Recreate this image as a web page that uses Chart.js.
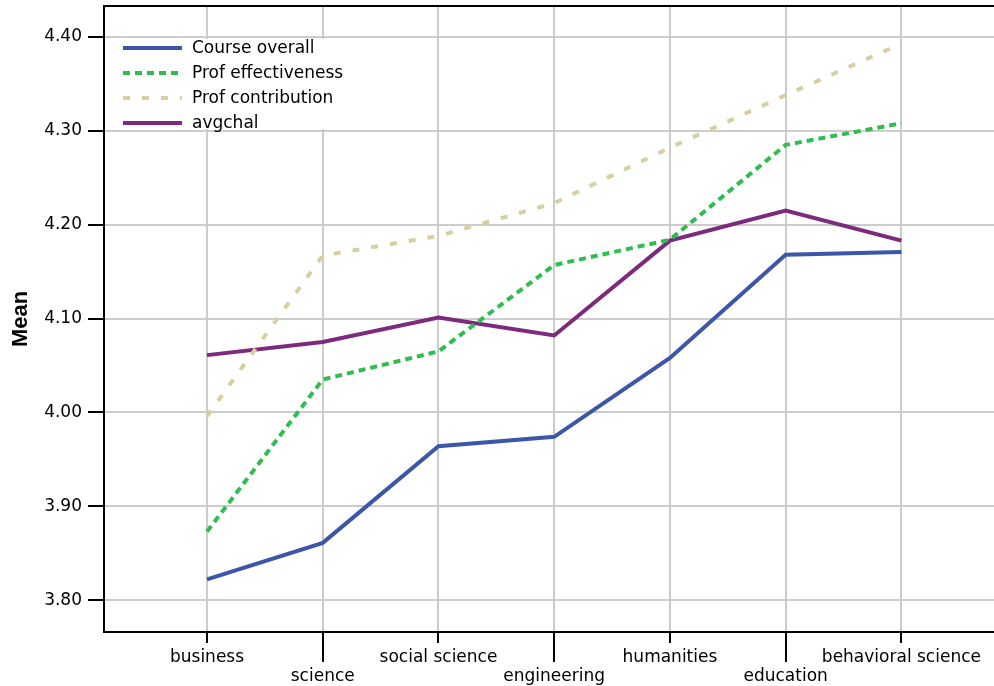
<!DOCTYPE html>
<html>
<head>
<meta charset="utf-8">
<script src="https://cdn.jsdelivr.net/npm/chart.js@4.4.1/dist/chart.umd.min.js"></script>
<style>
    html, body { margin: 0; padding: 0; background: #fff; }
    #wrap { width: 994px; height: 686px; }
</style>
</head>
<body>
<div id="wrap"><canvas id="meanChart"></canvas></div>
<script>
    const fields = ['business', 'science', 'social science', 'engineering', 'humanities', 'education', 'behavioral science'];
    const yTicks = [3.8, 3.9, 4.0, 4.1, 4.2, 4.3, 4.4];

    const courseOverall = [3.822, 3.861, 3.964, 3.974, 4.058, 4.168, 4.171];
    const profEffectiveness = [3.873, 4.035, 4.065, 4.157, 4.184, 4.285, 4.308];
    const profContribution = [3.996, 4.167, 4.188, 4.223, 4.282, 4.338, 4.393];
    const avgchal = [4.061, 4.075, 4.101, 4.082, 4.183, 4.215, 4.183];

    const labelFont = '"DejaVu Sans", Verdana, sans-serif';

    function toPoints(values) {
        return values.map((v, i) => ({ x: i, y: v }));
    }

    // box border on top, staggered x tick marks and the legend inside the plot
    const framePlugin = {
        id: 'frame',
        beforeDatasetsDraw(chart) {
            const ctx = chart.ctx;
            const area = chart.chartArea;
            ctx.save();
            ctx.fillStyle = '#ffffff';
            ctx.fillRect(area.left + 8, 39, 258, 90);
            ctx.font = '17px ' + labelFont;
            ctx.textBaseline = 'middle';
            ctx.fillStyle = '#000';
            chart.data.datasets.forEach((ds, i) => {
                const y = 48 + i * 25;
                ctx.strokeStyle = ds.borderColor;
                ctx.lineWidth = 4;
                ctx.setLineDash(ds.borderDash || []);
                ctx.beginPath();
                ctx.moveTo(123, y);
                ctx.lineTo(182, y);
                ctx.stroke();
                ctx.setLineDash([]);
                ctx.fillText(ds.label, 192, y + 1);
            });
            ctx.restore();
        },
        afterDraw(chart) {
            const ctx = chart.ctx;
            const area = chart.chartArea;
            const xs = chart.scales.x;
            ctx.save();
            ctx.strokeStyle = '#000';
            ctx.lineWidth = 2;
            ctx.beginPath();
            ctx.moveTo(area.left - 1, area.top);
            ctx.lineTo(area.right, area.top);
            ctx.stroke();
            fields.forEach((f, i) => {
                const x = Math.round(xs.getPixelForValue(i));
                ctx.beginPath();
                ctx.moveTo(x, area.bottom);
                ctx.lineTo(x, area.bottom + (i % 2 ? 30 : 11));
                ctx.stroke();
            });
            ctx.restore();
        }
    };

    const ctxMean = document.getElementById('meanChart').getContext('2d');
    const meanChart = new Chart(ctxMean, {
        type: 'line',
        data: {
            datasets: [{
                label: 'Course overall',
                data: toPoints(courseOverall),
                borderColor: '#3d56a8',
                borderWidth: 4
            }, {
                label: 'Prof effectiveness',
                data: toPoints(profEffectiveness),
                borderColor: '#2fbd4f',
                borderWidth: 4,
                borderDash: [7, 5]
            }, {
                label: 'Prof contribution',
                data: toPoints(profContribution),
                borderColor: '#d6cf9e',
                borderWidth: 4,
                borderDash: [7, 12]
            }, {
                label: 'avgchal',
                data: toPoints(avgchal),
                borderColor: '#7b2a7d',
                borderWidth: 4
            }]
        },
        options: {
            responsive: true,
            maintainAspectRatio: false,
            animation: false,
            layout: { padding: { top: 6, right: 0, left: 0, bottom: 0 } },
            elements: {
                point: { radius: 0, hoverRadius: 0 },
                line: { tension: 0, fill: false }
            },
            plugins: {
                legend: { display: false },
                tooltip: { enabled: false }
            },
            scales: {
                x: {
                    type: 'linear',
                    min: -0.89,
                    max: 6.8,
                    afterBuildTicks: (scale) => {
                        scale.ticks = fields.map((f, i) => ({ value: i }));
                    },
                    afterFit: (scale) => {
                        scale.height = 54;
                        scale.paddingLeft = 0;
                        scale.paddingRight = 0;
                    },
                    border: { color: '#000', width: 2 },
                    grid: {
                        color: '#cccccc',
                        lineWidth: 2,
                        drawTicks: true,
                        tickLength: 8,
                        tickColor: 'rgba(0,0,0,0)'
                    },
                    ticks: {
                        autoSkip: false,
                        maxRotation: 0,
                        padding: 8,
                        color: '#000',
                        font: { family: labelFont, size: 17, lineHeight: 1.12 },
                        callback: (value) => {
                            const i = Math.round(value);
                            return i % 2 ? ['', fields[i]] : fields[i];
                        }
                    }
                },
                y: {
                    min: 3.766,
                    max: 4.433,
                    afterBuildTicks: (scale) => {
                        scale.ticks = yTicks.map((v) => ({ value: v }));
                    },
                    afterFit: (scale) => {
                        scale.width = 104;
                        scale.paddingTop = 0;
                        scale.paddingBottom = 0;
                    },
                    border: { color: '#000', width: 2 },
                    grid: {
                        color: '#cccccc',
                        lineWidth: 2,
                        tickLength: 16,
                        tickColor: '#000',
                        tickWidth: 2
                    },
                    ticks: {
                        padding: 6,
                        color: '#000',
                        font: { family: labelFont, size: 17 },
                        callback: (value) => value.toFixed(2)
                    },
                    title: {
                        display: true,
                        text: 'Mean',
                        color: '#000',
                        padding: { top: 8, bottom: 0 },
                        font: { family: '"Liberation Sans", Arial, sans-serif', size: 22, weight: 'bold' }
                    }
                }
            }
        },
        plugins: [framePlugin]
    });
</script>
</body>
</html>
